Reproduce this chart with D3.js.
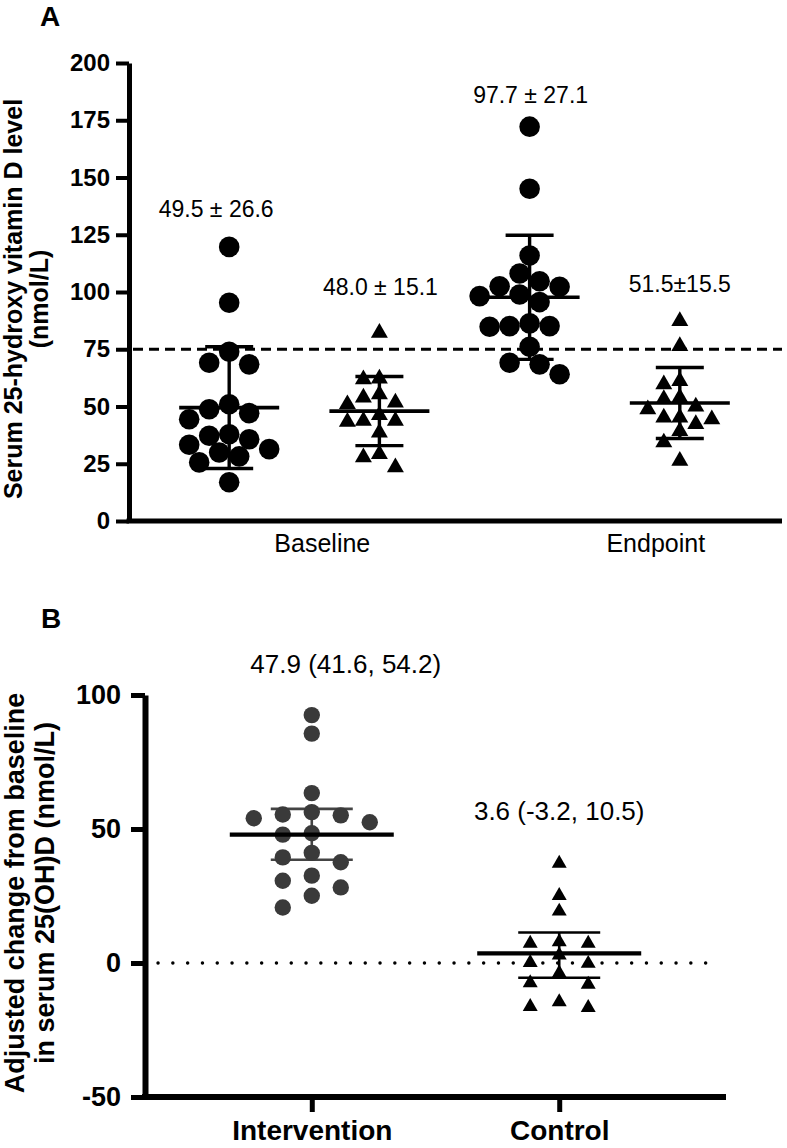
<!DOCTYPE html>
<html><head><meta charset="utf-8">
<script src="https://cdn.jsdelivr.net/npm/d3@7"></script>
<style>
body{margin:0;background:#fff}
svg{display:block}
text{font-family:"Liberation Sans",Arial,Helvetica,sans-serif}
</style>
</head><body>
<svg id="c" width="787" height="1148"></svg>
<script>
// ---------- Panel A data ----------
const groupsA = ["Baseline Intervention","Baseline Control","Endpoint Intervention","Endpoint Control"];
const timepointsA = ["Baseline","Endpoint"];
const baseIntervention = [119.7,95.3,73.9,68.4,69.1,48.8,51.0,44.4,47.1,33.3,37.2,31.4,35.7,37.9,28.2,25.6,29.9,16.9];
const baseControl = [82.2,62.2,61.9,51.0,53.9,55.3,51.7,43.3,43.7,43.7,46.2,38.6,29.2,27.8,23.4];
const endIntervention = [172.2,145.1,115.9,108.1,104.7,98.9,98.2,102.3,102.5,95.6,84.8,86.3,85.1,85.1,76.1,68.4,69.1,64.1];
const endControl = [87.3,76.4,59.7,61.1,53.9,53.2,48.8,50.0,44.4,45.2,45.2,42.3,39.3,34.3,26.3];
const meansA = [49.5,48.0,97.7,51.5];
const sdsA = [26.6,15.1,27.1,15.5];
const labelsA = ["49.5 \u00b1 26.6","48.0 \u00b1 15.1","97.7 \u00b1 27.1","51.5\u00b115.5"];
const ticksA = [0,25,50,75,100,125,150,175,200];
const thresholdA = 75;
const yTitleA = ["Serum 25-hydroxy vitamin D level","(nmol/L)"];

// ---------- Panel B data ----------
const groupsB = ["Intervention","Control"];
const changeIntervention = [92.5,85.6,63.4,54.0,55.1,56.3,52.5,55.4,48.4,47.9,41.1,37.6,39.4,30.7,28.2,32.6,25.1,20.7];
const changeControl = [37.2,25.1,19.3,7.9,7.3,7.3,2.9,0.1,-0.2,-3.8,-8.0,-7.4,-16.7,-14.5,-16.3];
const meansB = [47.9,3.6];
const barLowB = [38.5,-5.5];
const barHighB = [57.5,11.4];
const labelsB = ["47.9 (41.6, 54.2)","3.6 (-3.2, 10.5)"];
const ticksB = [-50,0,50,100];
const yTitleB = ["Adjusted change from baseline","in serum 25(OH)D (nmol/L)"];

// ---------- helpers ----------
const svg = d3.select("#c");

function swarm(values, y, step, collide){
  const order = values.map((v,i)=>i).sort((a,b)=>values[b]-values[a]);
  const placed = [], off = new Array(values.length);
  order.forEach(i=>{
    const yy = y(values[i]);
    for(let k=0;k<60;k++){
      const cands = k===0?[0]:[-k*step,k*step];
      let f = null;
      for(const dx of cands){
        if(!placed.some(p=>collide(Math.abs(p.x-dx),Math.abs(p.y-yy)))){f=dx;break;}
      }
      if(f!==null){off[i]=f;placed.push({x:f,y:yy});break;}
    }
  });
  return off;
}

// ================= PANEL A =================
const gA = svg.append("g");
const axA = {left:129, right:782};
const yA = d3.scaleLinear().domain([0,200]).range([521,63]);
const xA = d3.scalePoint().domain(groupsA).range([129,780]).padding(0.667);
const idxA = d3.scaleLinear().domain([0,groupsA.length-1]).range([xA(groupsA[0]),xA(groupsA[groupsA.length-1])]);

gA.append("text").attr("x",40).attr("y",26).attr("font-size",28).attr("font-weight","bold").text("A");

// threshold dashed line
gA.append("line").attr("x1",axA.left+4).attr("x2",axA.right).attr("y1",yA(thresholdA)).attr("y2",yA(thresholdA))
  .attr("stroke","#000").attr("stroke-width",3.2).attr("stroke-dasharray","10,6");

// y axis
const yAxA = gA.append("g").attr("transform",`translate(${axA.left},0)`)
  .call(d3.axisLeft(yA).tickValues(ticksA).tickFormat(d=>String(d)).tickSize(13).tickSizeOuter(0).tickPadding(6));
yAxA.select(".domain").attr("stroke","#000").attr("stroke-width",5);
yAxA.selectAll(".tick line").attr("stroke","#000").attr("stroke-width",4);
yAxA.selectAll(".tick text").attr("font-size",24).attr("font-weight","bold").attr("fill","#000")
  .attr("font-family",'"Liberation Sans",Arial,sans-serif');
// x axis line
gA.append("line").attr("x1",axA.left-2.5).attr("x2",axA.right).attr("y1",yA(0)).attr("y2",yA(0))
  .attr("stroke","#000").attr("stroke-width",5);

// y title
const ytA = gA.append("text").attr("transform",`translate(0,${(yA(0)+yA(200))/2+7}) rotate(-90)`)
  .attr("text-anchor","middle").attr("font-size",25).attr("font-weight","bold");
ytA.append("tspan").attr("x",0).attr("y",22).text(yTitleA[0]);
ytA.append("tspan").attr("x",0).attr("y",48).text(yTitleA[1]);

// timepoint labels
const timeLabelIdx = [0.62,2.84];
timepointsA.forEach((t,i)=>{
  gA.append("text").attr("x",idxA(timeLabelIdx[i])).attr("y",552).attr("text-anchor","middle")
    .attr("font-size",25).text(t);
});

const seriesA = [baseIntervention,baseControl,endIntervention,endControl];
const annotDX = [-13,1,1,0], annotGap = [30,38,24,29];
seriesA.forEach((vals,gi)=>{
  const cx = xA(groupsA[gi]);
  const tri = gi%2===1;
  const m = meansA[gi], s = sdsA[gi];
  const g = gA.append("g");
  const ln = (x1,x2,y1,y2,w)=>g.append("line").attr("x1",x1).attr("x2",x2).attr("y1",y1).attr("y2",y2)
      .attr("stroke","#000").attr("stroke-width",w);
  ln(cx,cx,yA(m+s),yA(m-s),3.4);
  ln(cx-24,cx+24,yA(m+s),yA(m+s),3.4);
  ln(cx-24,cx+24,yA(m-s),yA(m-s),3.4);
  ln(cx-50,cx+50,yA(m),yA(m),3.6);
  const offs = tri ? swarm(vals,yA,8,(dx,dy)=>dx<15.5&&dy<13.5)
                   : swarm(vals,yA,10,(dx,dy)=>dx*dx+dy*dy<19*19);
  if(tri){
    g.selectAll("path.pt").data(vals).join("path").attr("class","pt")
      .attr("d",d3.symbol().type(d3.symbolTriangle).size(125)())
      .attr("transform",(d,i)=>`translate(${cx+offs[i]},${yA(d)})`).attr("fill","#000");
  } else {
    g.selectAll("circle").data(vals).join("circle")
      .attr("cx",(d,i)=>cx+offs[i]).attr("cy",d=>yA(d)).attr("r",10.3).attr("fill","#000");
  }
  gA.append("text").attr("x",cx+annotDX[gi]).attr("y",yA(d3.max(vals))-annotGap[gi])
    .attr("text-anchor","middle").attr("font-size",23).text(labelsA[gi]);
});

// ================= PANEL B =================
const gB = svg.append("g");
const axB = {left:145, right:726};
const yB = d3.scaleLinear().domain([-50,100]).range([1097,695]);
const xB = d3.scalePoint().domain(groupsB).range([axB.left,axB.right]).padding(0.674);

gB.append("text").attr("x",41).attr("y",628).attr("font-size",28).attr("font-weight","bold").text("B");

// zero dotted line
gB.append("line").attr("x1",axB.left+13).attr("x2",axB.right-6).attr("y1",yB(0)).attr("y2",yB(0))
  .attr("stroke","#000").attr("stroke-width",3.4).attr("stroke-linecap","round").attr("stroke-dasharray","0.1,14.7");

const yAxB = gB.append("g").attr("transform",`translate(${axB.left},0)`)
  .call(d3.axisLeft(yB).tickValues(ticksB).tickFormat(d=>String(d)).tickSize(14).tickSizeOuter(0).tickPadding(10));
yAxB.select(".domain").attr("stroke","#000").attr("stroke-width",6);
yAxB.selectAll(".tick line").attr("stroke","#000").attr("stroke-width",5);
yAxB.selectAll(".tick text").attr("font-size",27).attr("font-weight","bold").attr("fill","#000")
  .attr("font-family",'"Liberation Sans",Arial,sans-serif');

const xAxB = gB.append("g").attr("transform",`translate(0,${yB(-50)})`)
  .call(d3.axisBottom(xB).tickSize(15).tickSizeOuter(0).tickPadding(8));
xAxB.select(".domain").attr("stroke","#000").attr("stroke-width",6)
  .attr("d",`M${axB.left-3},0H${axB.right}`);
xAxB.selectAll(".tick line").attr("stroke","#000").attr("stroke-width",5);
xAxB.selectAll(".tick text").attr("font-size",28).attr("font-weight","bold").attr("fill","#000")
  .attr("font-family",'"Liberation Sans",Arial,sans-serif');

const ytB = gB.append("text").attr("transform",`translate(0,${(yB(-50)+yB(100))/2-3}) rotate(-90)`)
  .attr("text-anchor","middle").attr("font-size",27).attr("font-weight","bold");
ytB.append("tspan").attr("x",0).attr("y",24).text(yTitleB[0]);
ytB.append("tspan").attr("x",0).attr("y",54).text(yTitleB[1]);

const seriesB = [changeIntervention,changeControl];
const colorB = ["#3a3a3a","#000"];
const annotDXB = [34,0], annotGapB = [42,43];
seriesB.forEach((vals,gi)=>{
  const cx = xB(groupsB[gi]);
  const g = gB.append("g");
  const ln = (x1,x2,y1,y2,w,c)=>g.append("line").attr("x1",x1).attr("x2",x2).attr("y1",y1).attr("y2",y2)
      .attr("stroke",c).attr("stroke-width",w);
  const wc = gi===0?"#444":"#000";
  ln(cx,cx,yB(barHighB[gi]),yB(barLowB[gi]),2.6,wc);
  ln(cx-41,cx+41,yB(barHighB[gi]),yB(barHighB[gi]),2.6,wc);
  ln(cx-41,cx+41,yB(barLowB[gi]),yB(barLowB[gi]),2.6,wc);
  const offs = swarm(vals,yB,29,(dx,dy)=>dx<28&&dy<(gi===0?16:13));
  if(gi===1){
    g.selectAll("path.pt").data(vals).join("path").attr("class","pt")
      .attr("d",d3.symbol().type(d3.symbolTriangle).size(97)())
      .attr("transform",(d,i)=>`translate(${cx+offs[i]},${yB(d)})`).attr("fill",colorB[gi]);
  } else {
    g.selectAll("circle").data(vals).join("circle")
      .attr("cx",(d,i)=>cx+offs[i]).attr("cy",d=>yB(d)).attr("r",8.2).attr("fill",colorB[gi]);
  }
  ln(cx-82,cx+82,yB(meansB[gi]),yB(meansB[gi]),4.2,"#000");
  gB.append("text").attr("x",cx+annotDXB[gi]).attr("y",yB(d3.max(vals))-annotGapB[gi])
    .attr("text-anchor","middle").attr("font-size",26).text(labelsB[gi]);
});
</script>
</body></html>
